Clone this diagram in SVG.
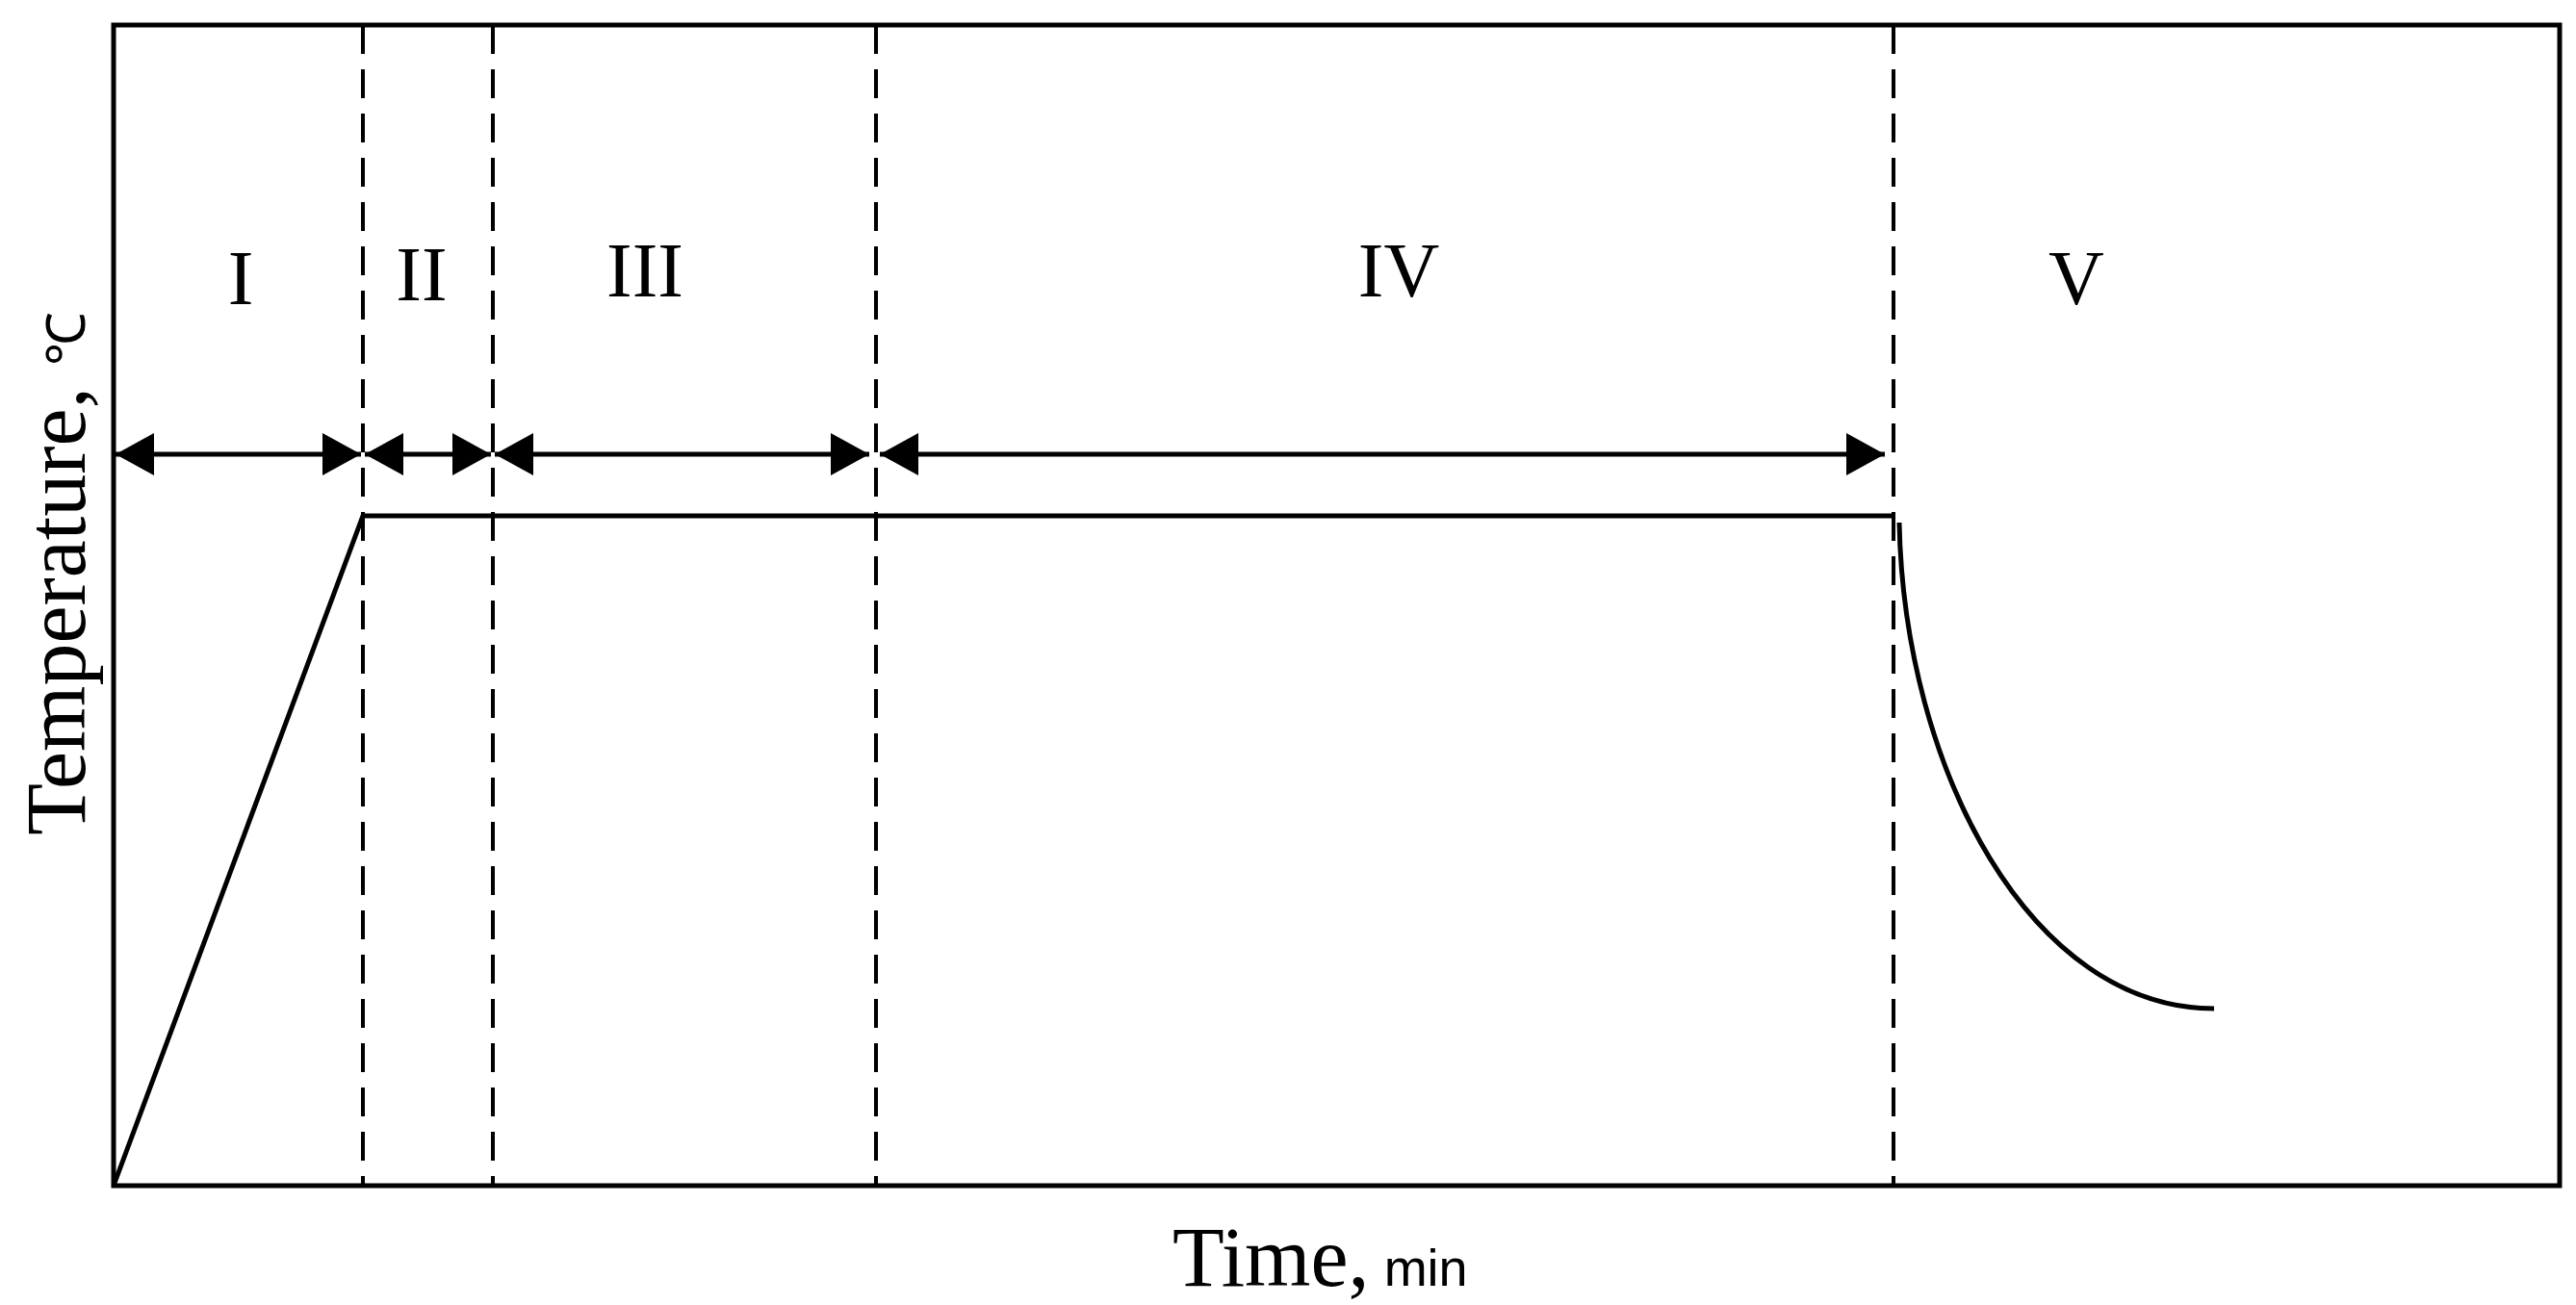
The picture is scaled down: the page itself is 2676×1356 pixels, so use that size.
<svg xmlns="http://www.w3.org/2000/svg" width="2676" height="1356" viewBox="0 0 2676 1356">
<style>
.ln{stroke:#000;stroke-width:5;fill:none}
.dash{stroke:#000;stroke-width:4;stroke-dasharray:30 16;fill:none}
.arr{stroke:#000;stroke-width:5;fill:none;marker-start:url(#ah);marker-end:url(#ah)}
.rn{font-family:"Liberation Serif",serif;font-size:80px;text-anchor:middle;fill:#000}
.ax{font-family:"Liberation Serif",serif;font-size:88px;fill:#000}
</style>
<defs>
<marker id="ah" markerUnits="userSpaceOnUse" viewBox="0 0 40 44" refX="40" refY="22" markerWidth="40" markerHeight="44" orient="auto-start-reverse">
<path d="M0,0 L40,22 L0,44 Z" fill="#000"/>
</marker>
</defs>
<rect width="2676" height="1356" fill="#fff"/>
<g id="frame"><rect x="118" y="26" width="2541" height="1206" class="ln"/></g>
<g id="dividers">
<line x1="377" y1="26" x2="377" y2="1232" class="dash"/>
<line x1="512" y1="26" x2="512" y2="1232" class="dash"/>
<line x1="910" y1="26" x2="910" y2="1232" class="dash"/>
<line x1="1967" y1="26" x2="1967" y2="1232" class="dash"/>
</g>
<g id="connectors">
<line x1="120" y1="472" x2="375" y2="472" class="arr"/>
<line x1="379" y1="472" x2="510" y2="472" class="arr"/>
<line x1="514" y1="472" x2="903" y2="472" class="arr"/>
<line x1="914" y1="472" x2="1958" y2="472" class="arr"/>
</g>
<g id="curve">
<path d="M118,1232 L377,536 L1967,536" class="ln"/>
<path d="M1973,543 C1978,800 2110,1048 2300,1048" class="ln"/>
</g>
<g id="labels">
<text x="250" y="316" class="rn">I</text>
<text x="438" y="312" class="rn">II</text>
<text x="670" y="308" class="rn">III</text>
<text x="1453" y="308" class="rn">IV</text>
<text x="2157" y="316" class="rn">V</text>
</g>
<g id="axes">
<text class="ax" transform="translate(88,596) rotate(-90)" text-anchor="middle">Temperature, <tspan font-size="56">℃</tspan></text>
<text x="1218" y="1336" class="ax">Time,<tspan font-family="'Liberation Sans',sans-serif" font-size="54"> min</tspan></text>
</g>
</svg>
